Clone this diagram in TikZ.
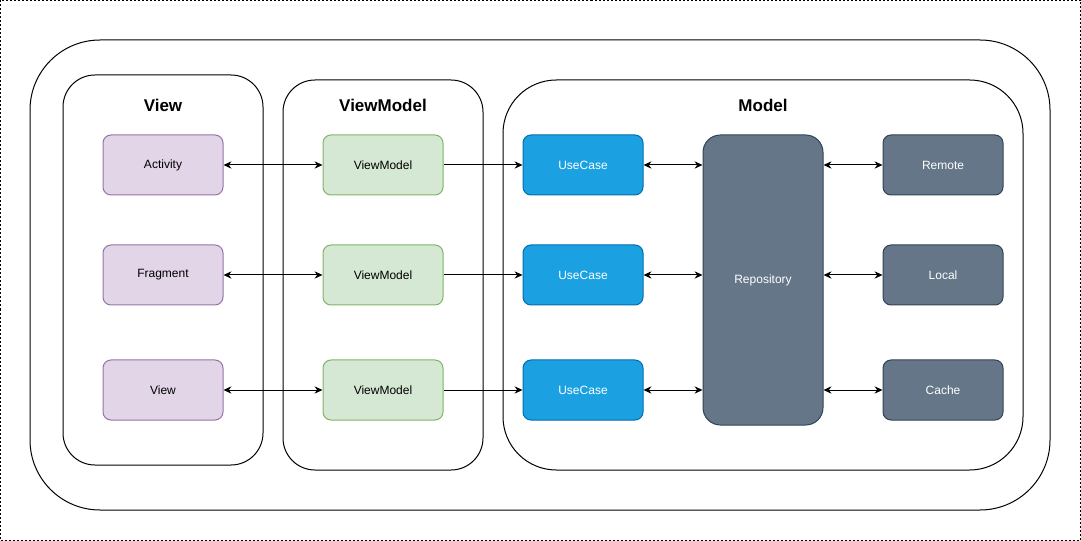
\documentclass[tikz,border=0pt]{standalone}
\usepackage{fontspec}
\setmainfont{Liberation Sans}
\usetikzlibrary{arrows.meta}
\definecolor{viewfill}{HTML}{E1D5E7}
\definecolor{viewline}{HTML}{9673A6}
\definecolor{vmfill}{HTML}{D5E8D4}
\definecolor{vmline}{HTML}{82B366}
\definecolor{ucfill}{HTML}{1BA1E2}
\definecolor{ucline}{HTML}{006EAF}
\definecolor{datafill}{HTML}{647687}
\definecolor{dataline}{HTML}{314354}

\begin{document}
\begin{tikzpicture}[x=0.75pt,y=-0.75pt,line width=0.75pt,
  box/.style={draw,rounded corners=6pt,minimum width=90pt,minimum height=45pt,inner sep=0pt,font=\fontsize{9}{11}\selectfont},
  viewbox/.style={box,fill=viewfill,draw=viewline},
  vmbox/.style={box,fill=vmfill,draw=vmline},
  ucbox/.style={box,fill=ucfill,draw=ucline,text=white},
  databox/.style={box,fill=datafill,draw=dataline,text=white},
  title/.style={font=\fontsize{12.75}{15}\selectfont\bfseries},
  tip/.tip={Stealth[length=6pt,width=5.5pt,inset=2pt]},
  oneway/.style={-tip},
  twoway/.style={tip-tip}]
  \useasboundingbox (0,0) rectangle (1081,541);
  \draw[line width=0.6pt,dash pattern=on 1.5pt off 1.5pt] (0.5,0.5) rectangle (1080.5,540.5);
  \draw[rounded corners=52.5pt] (30,40) rectangle (1050,510);
  \draw[rounded corners=24pt] (63,75) rectangle (263,465);
  \draw[rounded corners=24pt] (283,80) rectangle (483,470);
  \draw[rounded corners=40pt] (503,80) rectangle (1023,470);
  \node[title] (viewtitle) at (163,105) {View};
  \node[title] (vmtitle) at (383,105) {ViewModel};
  \node[title] (modeltitle) at (763,105) {Model};

  \node[viewbox] (activity) at (163,165) {Activity};
  \node[viewbox] (fragment) at (163,275) {Fragment};
  \node[viewbox] (viewnode) at (163,390) {View};
  \node[vmbox] (vm1) at (383,165) {ViewModel};
  \node[vmbox] (vm2) at (383,275) {ViewModel};
  \node[vmbox] (vm3) at (383,390) {ViewModel};
  \node[ucbox] (uc1) at (583,165) {UseCase};
  \node[ucbox] (uc2) at (583,275) {UseCase};
  \node[ucbox] (uc3) at (583,390) {UseCase};
  \node[databox,rounded corners=13pt,minimum height=217.5pt] (repo) at (763,280) {Repository};
  \node[databox] (remote) at (943,165) {Remote};
  \node[databox] (local) at (943,275) {Local};
  \node[databox] (cache) at (943,390) {Cache};

  \draw[twoway] (activity) -- (vm1);
  \draw[twoway] (fragment) -- (vm2);
  \draw[twoway] (viewnode) -- (vm3);
  \draw[oneway] (vm1) -- (uc1);
  \draw[oneway] (vm2) -- (uc2);
  \draw[oneway] (vm3) -- (uc3);
  \draw[twoway] (uc1.east) -- (uc1.east -| repo.west);
  \draw[twoway] (uc2.east) -- (uc2.east -| repo.west);
  \draw[twoway] (uc3.east) -- (uc3.east -| repo.west);
  \draw[twoway] (remote.west -| repo.east) -- (remote.west);
  \draw[twoway] (local.west -| repo.east) -- (local.west);
  \draw[twoway] (cache.west -| repo.east) -- (cache.west);
\end{tikzpicture}
\end{document}
